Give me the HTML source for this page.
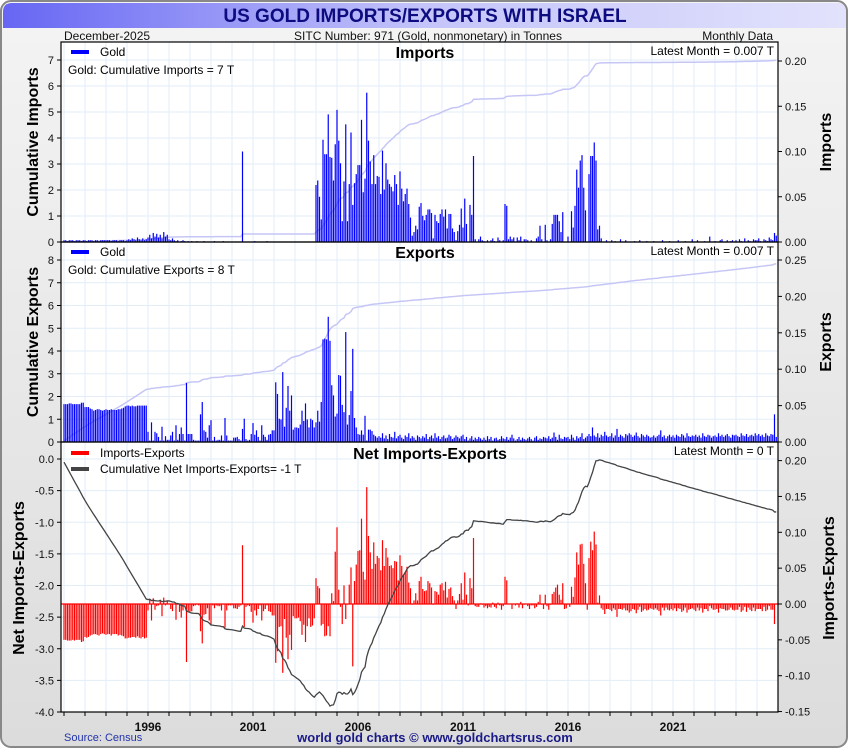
<!DOCTYPE html>
<html><head><meta charset="utf-8">
<style>
body{margin:0;width:850px;height:750px;overflow:hidden;background:#fff;font-family:"Liberation Sans",sans-serif}
svg{display:block}
</style></head>
<body>
<svg id="chart" width="850" height="750" xmlns="http://www.w3.org/2000/svg">
<defs>
<linearGradient id="tg" x1="0" x2="1" y1="0" y2="0"><stop offset="0" stop-color="#6666f4"/><stop offset="0.5" stop-color="#c4c4fa"/><stop offset="1" stop-color="#e2e2fc"/></linearGradient>
<linearGradient id="bg" x1="0" x2="0" y1="0" y2="1"><stop offset="0" stop-color="#f4f4f4"/><stop offset="1" stop-color="#dcdcdc"/></linearGradient>
</defs>
<rect x="1" y="1" width="846" height="746" rx="10" fill="url(#bg)" stroke="#888" stroke-width="2"/>
<path d="M3,28 L3,12 Q3,3 12,3 L837,3 Q846,3 846,12 L846,28 Z" fill="url(#tg)"/>
<text x="425" y="22" text-anchor="middle" font-size="19" font-weight="bold" fill="#0c0c80">US GOLD IMPORTS/EXPORTS WITH ISRAEL</text>
<text x="64" y="40" font-size="12" fill="#111">December-2025</text>
<text x="428" y="40" text-anchor="middle" font-size="12" fill="#111">SITC Number: 971 (Gold, nonmonetary) in Tonnes</text>
<text x="773" y="40" text-anchor="end" font-size="12" fill="#111">Monthly Data</text>
<rect x="61" y="42" width="717" height="670" fill="#fff"/>
<g id="grid"></g>
<g id="marks"></g>
<g id="axes"></g>
<text x="64" y="741" font-size="11" fill="#2233aa">Source: Census</text>
<text x="435" y="742" text-anchor="middle" font-size="13" font-weight="bold" fill="#1a1a88">world gold charts © www.goldchartsrus.com</text>
</svg>
<script>
// Monthly values in thousandths of tonnes, Jan 1992 .. Dec 2025 (one row per year)
const importsMonthly = [
2,2,1,2,2,2,1,2,2,2,1,2,
2,1,2,2,2,1,2,2,1,2,2,2,
2,2,2,1,2,2,2,1,2,2,2,1,
2,3,2,4,3,2,5,3,2,4,2,3,
5,8,4,10,6,9,5,8,4,11,6,8,
3,2,4,2,1,2,0,1,2,1,0,1,
0,1,0,0,1,0,0,0,1,0,0,0,
0,0,1,0,0,0,0,1,0,0,0,0,
0,0,0,0,0,0,100,0,0,0,0,0,
0,1,0,0,0,0,0,0,1,0,0,0,
0,0,0,0,0,0,0,0,0,0,0,0,
0,0,0,0,0,0,0,0,0,0,0,0,
63,68,50,25,113,97,97,141,94,93,68,108,
146,112,87,23,67,130,23,64,121,41,65,75,
85,85,135,55,70,165,112,89,64,96,64,73,
72,53,101,58,87,69,64,61,56,74,64,41,
78,59,45,53,59,42,27,7,11,18,14,39,
43,29,24,30,36,36,32,4,30,23,21,31,
36,28,36,15,31,31,15,11,2,12,19,37,
16,48,20,0,41,30,95,3,0,3,6,2,
1,0,2,0,2,4,1,0,5,2,0,2,
42,40,3,6,3,5,0,5,2,6,0,3,
3,2,0,2,0,0,4,6,18,3,0,19,
2,0,3,20,30,30,30,23,11,33,0,0,
6,0,34,16,40,80,60,90,96,60,35,0,
75,95,95,110,90,14,18,4,0,0,2,0,
0,2,0,1,0,0,3,0,0,2,0,0,
0,0,1,0,0,2,0,0,0,1,0,0,
0,1,0,0,0,0,2,0,0,0,1,0,
0,0,0,2,0,0,0,1,0,0,0,3,
0,0,2,0,0,0,1,0,0,6,0,0,
1,0,0,2,3,0,0,2,0,1,2,0,
2,0,3,1,0,4,0,2,1,0,3,2,
2,4,1,0,3,2,1,5,3,2,10,7];
const exportsMonthly = [
52,52,52,53,53,52,52,52,52,52,54,54,
48,48,48,46,45,43,44,45,45,44,43,44,
45,44,44,45,44,44,44,45,45,46,47,49,
50,50,49,50,49,49,50,50,50,50,50,50,
14,2,27,2,14,12,7,2,21,2,8,3,
3,9,14,2,23,3,11,20,11,2,81,11,
11,11,3,2,2,2,38,55,16,14,6,23,
30,2,7,2,3,3,9,2,33,9,2,2,
2,6,6,7,4,2,18,32,4,2,3,11,
26,10,16,7,2,23,10,7,3,10,11,16,
16,82,66,32,31,96,21,47,77,43,64,17,
20,20,19,24,43,29,53,31,20,32,30,20,
27,43,28,55,141,142,141,172,139,78,64,35,
39,92,91,51,41,151,24,37,70,128,33,20,
11,10,16,10,36,2,17,17,15,10,8,6,
8,6,12,5,9,4,11,7,6,14,5,8,
10,6,4,9,7,12,5,8,6,3,9,7,
5,8,6,11,4,7,9,5,12,6,8,4,
7,9,5,6,10,8,4,6,9,7,5,8,
10,4,7,2,5,8,3,6,4,7,5,3,
6,3,8,4,7,2,5,6,3,4,8,5,
4,7,3,6,10,5,2,4,7,3,6,4,
3,5,7,4,2,6,8,3,5,4,7,6,
5,8,4,6,13,7,3,10,5,4,7,6,
7,4,10,6,3,8,5,7,12,4,6,8,
11,8,20,9,7,12,6,10,8,14,9,7,
8,12,6,9,18,7,10,8,6,11,9,12,
10,7,9,13,8,6,11,9,7,10,8,6,
7,9,6,8,10,16,7,9,5,8,10,7,
9,6,10,8,7,11,9,6,12,8,7,9,
8,10,7,9,6,12,8,7,10,9,6,8,
9,7,12,8,10,7,9,11,8,6,10,9,
10,8,7,12,9,8,11,7,9,10,8,12,
9,11,8,10,7,12,9,8,11,10,38,7];
const startYear = 1992;
const yearLabels = [1996, 2001, 2006, 2011, 2016, 2021];
const impLeftTicks = [0,1,2,3,4,5,6,7];
const impRightTicks = [0,0.05,0.10,0.15,0.20];
const expLeftTicks = [0,1,2,3,4,5,6,7,8];
const expRightTicks = [0,0.05,0.10,0.15,0.20,0.25];
const netLeftTicks = [0,-0.5,-1,-1.5,-2,-2.5,-3,-3.5,-4];
const netRightTicks = [0.20,0.15,0.10,0.05,0,-0.05,-0.10,-0.15];

const NS = "http://www.w3.org/2000/svg";
const gGrid = document.getElementById('grid'), gMarks = document.getElementById('marks'), gAxes = document.getElementById('axes');
function mk(tag, attrs, parent, txt){const e=document.createElementNS(NS,tag);for(const k in attrs)e.setAttribute(k,attrs[k]);if(txt!==undefined)e.textContent=txt;parent.appendChild(e);return e;}
const X0=61, X1=778;
const xMonth = i => 64 + i*1.75;
const xYear = y => 64 + (y-startYear)*21;
const panels = [
 {top:42,bot:242,l0:242,lk:26,r0:242,rk:905,lt:impLeftTicks,rt:impRightTicks,lf:v=>String(v),rf:v=>v.toFixed(2)},
 {top:242,bot:442,l0:442,lk:22.75,r0:442,rk:728,lt:expLeftTicks,rt:expRightTicks,lf:v=>String(v),rf:v=>v.toFixed(2)},
 {top:442,bot:712,l0:459,lk:63.25,r0:604,rk:717,lt:netLeftTicks,rt:netRightTicks,lf:v=>v.toFixed(1),rf:v=>v.toFixed(2)}
];
for(let y=startYear;y<=2025;y++){const x=xYear(y);
 const l=mk('line',{x1:x,x2:x,y1:42,y2:712,stroke:'#e2edf7','stroke-width':1},gGrid);
  
 const t=mk('line',{x1:x,x2:x,y1:712,y2:716,stroke:'#000','stroke-width':1},gAxes);
  
}
panels.forEach((p,pi)=>{
 p.lt.forEach(v=>{const y=p.l0-v*p.lk;
  const g=mk('line',{x1:X0,x2:X1,y1:y,y2:y,stroke:'#e2edf7','stroke-width':1},gGrid);
   
  const tk=mk('line',{x1:X0-4,x2:X0,y1:y,y2:y,stroke:'#000'},gAxes);
   
  const tl=mk('text',{x:X0-7,y:y+4,'text-anchor':'end','font-size':11,fill:'#111'},gAxes,p.lf(v));
   
 });
 p.rt.forEach(v=>{const y=p.r0-v*p.rk;
  const tk=mk('line',{x1:X1,x2:X1+4,y1:y,y2:y,stroke:'#000'},gAxes);
   
  const tl=mk('text',{x:X1+7,y:y+4,'font-size':11,fill:'#111'},gAxes,p.rf(v));
   
 });
 const fr=mk('rect',{x:X0,y:p.top,width:X1-X0,height:p.bot-p.top,fill:'none',stroke:'#000','stroke-width':1.2},gAxes);
  
});
yearLabels.forEach(y=>{const t=mk('text',{x:xYear(y),y:731,'text-anchor':'middle','font-size':12,'font-weight':'bold',fill:'#111'},gAxes,String(y));
  });

function bars(vals,p,color,name){vals.forEach((v,i)=>{const val=v/1000;const y0=p.r0,y1=p.r0-val*p.rk;
 const r=mk('rect',{x:xMonth(i)-0.6,y:Math.min(y0,y1),width:1.2,height:Math.max(Math.abs(y1-y0),0.01),fill:color},gMarks);
  });}
function cumLine(vals,p,color,w,name){let s=0;const pts=vals.map((v,i)=>{s+=v/1000;return xMonth(i).toFixed(2)+','+(p.l0-s*p.lk).toFixed(2);});
 const l=mk('polyline',{points:pts.join(' '),fill:'none',stroke:color,'stroke-width':w},gMarks);
  }
const netMonthly = importsMonthly.map((v,i)=>v-exportsMonthly[i]);
cumLine(importsMonthly,panels[0],'#c6c6f6',1.5,'cumulative-imports-line');
bars(importsMonthly,panels[0],'#0000ff','import-bar');
cumLine(exportsMonthly,panels[1],'#c6c6f6',1.5,'cumulative-exports-line');
bars(exportsMonthly,panels[1],'#0000ff','export-bar');
bars(netMonthly,panels[2],'#ff0000','net-bar');
const z=mk('line',{x1:X0,x2:X1,y1:604,y2:604,stroke:'#ff0000','stroke-width':1.2},gMarks);
 
cumLine(netMonthly,panels[2],'#444',1.3,'cumulative-net-line');

function txt(a,s,name){const t=mk('text',a,gAxes,s);return t;}
txt({x:425,y:58,'text-anchor':'middle','font-size':16,'font-weight':'bold'},'Imports','imports-panel-title');
txt({x:425,y:258,'text-anchor':'middle','font-size':16,'font-weight':'bold'},'Exports','exports-panel-title');
txt({x:430,y:459,'text-anchor':'middle','font-size':16,'font-weight':'bold'},'Net Imports-Exports','net-panel-title');
txt({x:774,y:55,'text-anchor':'end','font-size':12},'Latest Month = 0.007 T','imports-latest');
txt({x:774,y:255,'text-anchor':'end','font-size':12},'Latest Month = 0.007 T','exports-latest');
txt({x:774,y:455,'text-anchor':'end','font-size':12},'Latest Month = 0 T','net-latest');
txt({x:68,y:74,'font-size':12},'Gold: Cumulative Imports = 7 T','imports-cumulative-note');
txt({x:68,y:274,'font-size':12},'Gold: Cumulative Exports = 8 T','exports-cumulative-note');
function leg(y,color,label,name){const r=mk('rect',{x:71,y:y-2,width:18,height:4,fill:color},gAxes);
 txt({x:100,y:y+4,'font-size':12},label,name);}
leg(52,'#0000ff','Gold','imports-legend-gold');
leg(252,'#0000ff','Gold','exports-legend-gold');
leg(453,'#ff0000','Imports-Exports','legend-net');
leg(469,'#444','Cumulative Net Imports-Exports= -1 T','legend-cumulative-net');
function vt(x,y,s,name){txt({x:x,y:y,'text-anchor':'middle','font-size':16,'font-weight':'bold',transform:`rotate(-90 ${x} ${y})`},s,name);}
vt(38,142,'Cumulative Imports','left-axis-title-imports');
vt(38,342,'Cumulative Exports','left-axis-title-exports');
vt(24,578,'Net Imports-Exports','left-axis-title-net');
vt(831,142,'Imports','right-axis-title-imports');
vt(831,342,'Exports','right-axis-title-exports');
vt(834,578,'Imports-Exports','right-axis-title-net');
</script>
</body></html>
